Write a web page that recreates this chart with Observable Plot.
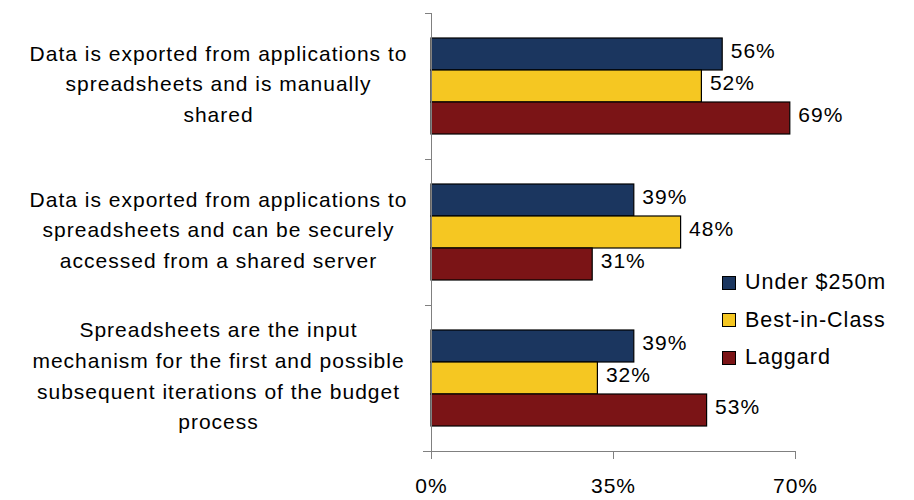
<!DOCTYPE html>
<html>
<head>
<meta charset="utf-8">
<script src="https://cdn.jsdelivr.net/npm/d3@7"></script>
<script src="https://cdn.jsdelivr.net/npm/@observablehq/plot@0.6"></script>
<style>
  html, body { margin: 0; padding: 0; background: #fff; }
  #wrap { position: relative; width: 914px; height: 500px; font-family: "Liberation Sans", Arial, sans-serif; }
  #wrap svg text { letter-spacing: 1px; }
  #legend { position: absolute; left: 722px; top: 264px; font-size: 21.5px; color: #000; letter-spacing: 1px; }
  .li { display: flex; align-items: center; height: 37.5px; }
  .sw { width: 12px; height: 12px; border: 1px solid #000; margin-right: 9px; }
</style>
</head>
<body>
<div id="wrap"><div id="legend"></div></div>
<script>
const categories = [
  "Data is exported from applications to spreadsheets and is manually shared",
  "Data is exported from applications to spreadsheets and can be securely accessed from a shared server",
  "Spreadsheets are the input mechanism for the first and possible subsequent iterations of the budget process"
];
const categoryLabels = [
  "Data is exported from applications to\nspreadsheets and is manually\nshared",
  "Data is exported from applications to\nspreadsheets and can be securely\naccessed from a shared server",
  "Spreadsheets are the input\nmechanism for the first and possible\nsubsequent iterations of the budget\nprocess"
];
const series = ["Under $250m", "Best-in-Class", "Laggard"];
const under250 = [56, 39, 39];
const bestInClass = [52, 48, 32];
const laggard = [69, 31, 53];
const xTicks = [0, 35, 70];
const colors = ["#1b365f", "#f5c722", "#7b1416"];

const valuesBySeries = [under250, bestInClass, laggard];
const data = categories.flatMap((cat, i) =>
  series.map((s, j) => ({cat, series: s, value: valuesBySeries[j][i]}))
);
const labelOf = new Map(categories.map((c, i) => [c, categoryLabels[i]]));

const font = "Liberation Sans, Arial, sans-serif";
const axisGray = "#808080";

const chart = Plot.plot({
  width: 914,
  height: 500,
  marginLeft: 431,
  marginRight: 119,
  marginTop: 12,
  marginBottom: 48,
  style: {fontFamily: font, fontSize: "21px", background: "white", color: "black"},
  x: {domain: [0, 70], axis: null},
  y: {domain: series, paddingInner: 0, paddingOuter: 0.72, axis: null},
  fy: {domain: categories, padding: 0, axis: null},
  color: {domain: series, range: colors},
  marks: [
    Plot.barX(data, {fy: "cat", y: "series", x: "value", fill: "series", stroke: "black", strokeWidth: 1.2}),
    Plot.text(data, {fy: "cat", y: "series", x: "value", text: d => d.value + "%", textAnchor: "start", dx: 8, dy: -3, fontSize: 21, fill: "black"}),
    Plot.text(categories, {fy: d => d, text: d => labelOf.get(d), frameAnchor: "left", dx: -213, dy: -5, textAnchor: "middle", fontSize: 21, lineHeight: 1.46, fill: "black"}),
    Plot.frame({anchor: "top", insetLeft: -6, insetRight: 364, stroke: axisGray}),
    Plot.frame({anchor: "left", facet: "super", stroke: axisGray}),
    Plot.frame({anchor: "bottom", facet: "super", insetLeft: -8, stroke: axisGray}),
    Plot.axisX({ticks: xTicks, tickSize: 8, tickPadding: 19, tickFormat: d => d + "%", fontSize: 21, stroke: axisGray, label: null})
  ]
});
document.getElementById("wrap").prepend(chart);

const legend = document.getElementById("legend");
series.forEach((s, i) => {
  const row = document.createElement("div");
  row.className = "li";
  row.innerHTML = `<span class="sw" style="background:${colors[i]}"></span><span>${s}</span>`;
  legend.appendChild(row);
});
</script>
</body>
</html>
